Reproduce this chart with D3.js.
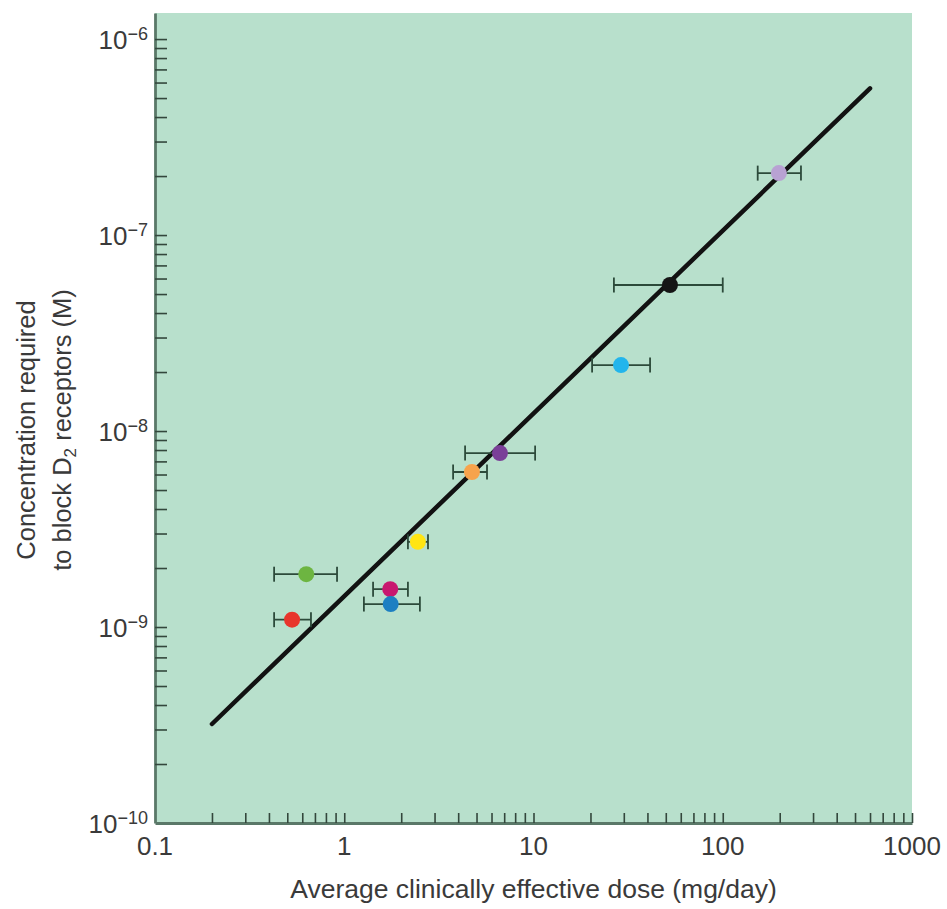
<!DOCTYPE html>
<html>
<head>
<meta charset="utf-8">
<script src="https://cdn.jsdelivr.net/npm/d3@7"></script>
<style>
  body { margin: 0; background: #fff; }
  svg text { font-family: "Liberation Sans", Arial, sans-serif; fill: #3a3a3a; }
</style>
</head>
<body>
<svg id="svg" width="947" height="909"></svg>
<script>
// Drugs: dose (mg/day) with error range, concentration to block D2 (M)
const colors = ['#e8352c', '#6db541', '#c8186f', '#1c7fc2', '#ffe512', '#f7a34c', '#7a3f98', '#22b5ec', '#151515', '#b8a2d3']
const doses = [0.53, 0.63, 1.75, 1.76, 2.45, 4.73, 6.65, 29, 52.6, 198]
const doseLow = [0.426, 0.426, 1.42, 1.27, 2.17, 3.76, 4.35, 20.4, 26.6, 153]
const doseHigh = [0.667, 0.916, 2.17, 2.51, 2.77, 5.68, 10.2, 41.3, 100, 259]
const concentrations = [1.09e-9, 1.86e-9, 1.56e-9, 1.31e-9, 2.72e-9, 6.18e-9, 7.72e-9, 2.17e-8, 5.56e-8, 2.07e-7]

// regression line end points
const fitDose = [0.2, 600]
const fitConc = [3.2e-10, 5.6e-7]

const xMajor = [0.1, 1, 10, 100, 1000]
const yMajorExp = [-6, -7, -8, -9, -10]

const drawChart = () => {
    const margin = { top: 13, right: 35, bottom: 86, left: 155 }
    const width = 947
    const height = 909
    const svg = d3.select('#svg')

    const xScale = d3.scaleLog()
        .domain([0.1, 1000])
        .range([margin.left, width - margin.right])

    const yScale = d3.scaleLog()
        .domain([1e-10, Math.pow(10, -5.867)])
        .range([height - margin.bottom, margin.top])

    // Background
    svg.append('rect')
        .attr('x', margin.left)
        .attr('y', margin.top)
        .attr('width', xScale.range()[1] - margin.left)
        .attr('height', yScale.range()[0] - margin.top)
        .attr('fill', '#b8e0cc')

    // Minor + major tick positions
    const xTicks = []
    for (let e = -1; e <= 2; e++) {
        for (let k = 1; k <= 9; k++) xTicks.push(k * Math.pow(10, e))
    }
    xTicks.push(1000)
    const yTicks = []
    for (let e = -10; e <= -7; e++) {
        for (let k = 1; k <= 9; k++) yTicks.push(k * Math.pow(10, e))
    }
    yTicks.push(1e-6)

    const xAxis = svg.append('g')
        .attr('transform', `translate(0,${yScale.range()[0]})`)
        .call(
            d3.axisBottom(xScale)
                .tickValues(xTicks.slice(1))
                .tickFormat('')
                .tickSizeInner(-10)
                .tickSizeOuter(0)
        )
    xAxis.selectAll('.tick line').attr('stroke', '#33473c').attr('stroke-width', 1.6)
    xAxis.select('.domain').attr('stroke', '#5a7868').attr('stroke-width', 2.8)

    const yAxis = svg.append('g')
        .attr('transform', `translate(${margin.left},0)`)
        .call(
            d3.axisLeft(yScale)
                .tickValues(yTicks.slice(1))
                .tickFormat('')
                .tickSizeInner(-12)
                .tickSizeOuter(0)
        )
    yAxis.selectAll('.tick line').attr('stroke', '#33473c').attr('stroke-width', 1.6)
    yAxis.select('.domain').attr('stroke', '#5a7868').attr('stroke-width', 2.8)

    // X tick labels
    svg.append('g')
        .selectAll('text')
        .data(xMajor)
        .join('text')
        .attr('x', (d) => xScale(d))
        .attr('y', yScale.range()[0] + 32)
        .attr('text-anchor', 'middle')
        .attr('font-size', 26)
        .text((d) => d)

    // Y tick labels: 10 with superscript exponent
    const yLabels = svg.append('g')
        .selectAll('text')
        .data(yMajorExp)
        .join('text')
        .attr('x', margin.left - 7)
        .attr('y', (d) => yScale(Math.pow(10, d)) + 10)
        .attr('text-anchor', 'end')
        .attr('font-size', 26)
    yLabels.append('tspan').text('10')
    yLabels.append('tspan')
        .attr('font-size', 18)
        .attr('dy', -9)
        .text((d) => '\u2212' + Math.abs(d))

    // Regression line
    svg.append('line')
        .attr('x1', xScale(fitDose[0]))
        .attr('y1', yScale(fitConc[0]))
        .attr('x2', xScale(fitDose[1]))
        .attr('y2', yScale(fitConc[1]))
        .attr('stroke', '#121212')
        .attr('stroke-width', 4.5)
        .attr('stroke-linecap', 'round')

    const points = doses.map((d, i) => ({
        dose: d, low: doseLow[i], high: doseHigh[i], conc: concentrations[i], color: colors[i],
    }))

    // Error bars
    const bars = svg.append('g')
        .attr('stroke', '#2c4a3a')
        .attr('stroke-width', 1.8)
    bars.selectAll('.bar')
        .data(points)
        .join('line')
        .attr('class', 'bar')
        .attr('x1', (d) => xScale(d.low))
        .attr('x2', (d) => xScale(d.high))
        .attr('y1', (d) => yScale(d.conc))
        .attr('y2', (d) => yScale(d.conc))
    bars.selectAll('.cap-l')
        .data(points)
        .join('line')
        .attr('class', 'cap-l')
        .attr('x1', (d) => xScale(d.low))
        .attr('x2', (d) => xScale(d.low))
        .attr('y1', (d) => yScale(d.conc) - 7.5)
        .attr('y2', (d) => yScale(d.conc) + 7.5)
    bars.selectAll('.cap-h')
        .data(points)
        .join('line')
        .attr('class', 'cap-h')
        .attr('x1', (d) => xScale(d.high))
        .attr('x2', (d) => xScale(d.high))
        .attr('y1', (d) => yScale(d.conc) - 7.5)
        .attr('y2', (d) => yScale(d.conc) + 7.5)

    // Markers
    svg.append('g')
        .selectAll('circle')
        .data(points)
        .join('circle')
        .attr('cx', (d) => xScale(d.dose))
        .attr('cy', (d) => yScale(d.conc))
        .attr('r', 8)
        .attr('fill', (d) => d.color)

    // Axis titles
    svg.append('text')
        .attr('x', (margin.left + xScale.range()[1]) / 2)
        .attr('y', 898)
        .attr('text-anchor', 'middle')
        .attr('font-size', 26.5)
        .text('Average clinically effective dose (mg/day)')

    const yTitle = svg.append('text')
        .attr('transform', 'translate(0,430) rotate(-90)')
        .attr('text-anchor', 'middle')
        .attr('font-size', 25.5)
    yTitle.append('tspan')
        .attr('x', 0)
        .attr('y', 35)
        .text('Concentration required')
    const line2 = yTitle.append('tspan')
        .attr('x', 0)
        .attr('y', 71)
    line2.append('tspan').text('to block D')
    line2.append('tspan').attr('font-size', 17).attr('dy', 5).text('2')
    line2.append('tspan').attr('dy', -5).text(' receptors (M)')
}

drawChart()
</script>
</body>
</html>
